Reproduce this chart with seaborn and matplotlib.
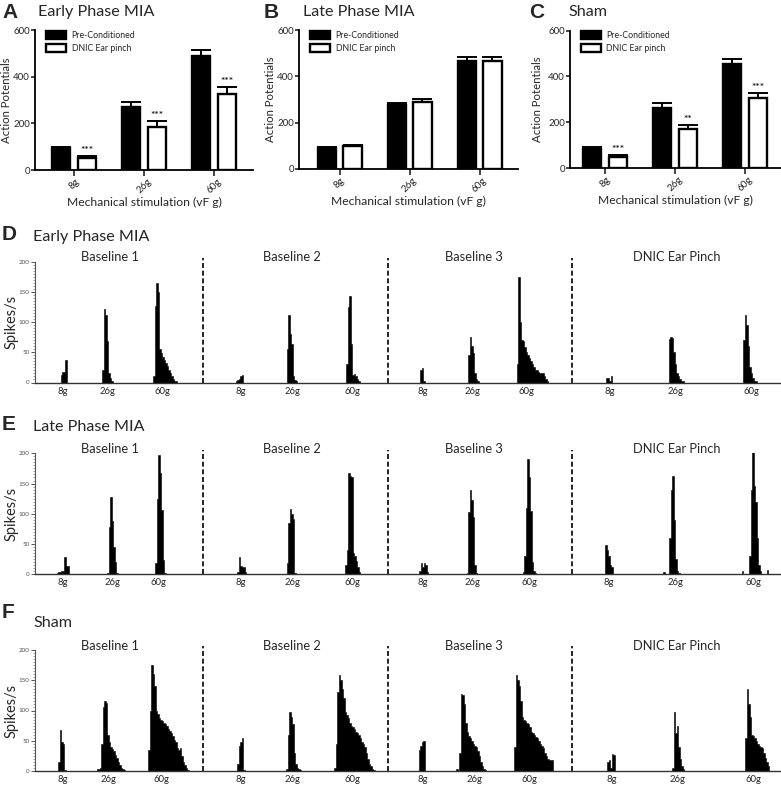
import numpy as np
import pandas as pd
import matplotlib
matplotlib.use("Agg")
import matplotlib.pyplot as plt
from matplotlib.ticker import MultipleLocator
import seaborn as sns

sns.set_theme(style="ticks")
plt.rcParams["font.family"] = ["Lato", "DejaVu Sans"]

# ---------------- bar chart data (A-C) ----------------
stimuli = ["8g", "26g", "60g"]
conditions = ["Pre-Conditioned", "DNIC Ear pinch"]

A_pre = [94, 270, 490]
A_pre_err = [6, 23, 26]
A_dnic = [53, 185, 326]
A_dnic_err = [5, 23, 28]
A_sig = ["***", "***", "***"]

B_pre = [92, 276, 465]
B_pre_err = [4, 9, 17]
B_dnic = [100, 291, 465]
B_dnic_err = [5, 10, 20]
B_sig = ["", "", ""]

C_pre = [84, 264, 452]
C_pre_err = [6, 18, 22]
C_dnic = [49, 171, 305]
C_dnic_err = [6, 15, 22]
C_sig = ["***", "**", "***"]

# ---------------- rate histogram data (D-F) ----------------
BIN_W = 1.5  # seconds per bin
stim_labels = ["8g", "26g", "60g"] * 4
segment_labels = ["Baseline 1", "Baseline 2", "Baseline 3", "DNIC Ear Pinch"]
segment_centres = [75, 257, 439, 642]
segment_bounds = [168, 353, 537]

D_stim_times = [28, 72, 127, 206, 257, 317, 388, 437, 491, 575, 640, 716]
D_onsets = [25.5, 67, 118.3, 200.5, 251.7, 311, 385, 433.3, 481.7, 571, 633.7, 708.3]
D_heights = [
    [12, 17, 17, 37],
    [20, 122, 112, 68, 15, 7, 2],
    [10, 127, 165, 150, 55, 48, 42, 38, 33, 27, 20, 15, 10, 5, 3, 2],
    [2, 4, 6, 10, 12],
    [55, 112, 80, 63, 10, 4, 2],
    [30, 125, 143, 63, 12, 14, 10, 5, 2],
    [20, 24, 3],
    [45, 75, 60, 48, 15, 5, 2],
    [30, 175, 100, 70, 68, 58, 50, 45, 40, 35, 30, 25, 20, 20, 18, 15, 15, 15, 10, 5, 2],
    [8, 8, 3, 10],
    [72, 75, 74, 50, 30, 15, 10, 6, 3, 2],
    [70, 111, 95, 60, 25, 15, 8, 3, 2],
]

E_stim_times = [28, 77, 123, 206, 257, 317, 388, 437, 494, 574, 640, 718]
E_onsets = [20, 72.3, 120, 202.3, 251.7, 310, 384.3, 431.7, 487.7, 570.3, 628.3, 634.3,
            706.7, 714.3, 731.7]
E_heights = [
    [1, 2, 3, 4, 5, 6, 28, 14, 13],
    [2, 78, 128, 88, 45, 20, 2],
    [18, 125, 197, 168, 107, 23, 2],
    [3, 28, 13, 12, 12, 3],
    [18, 85, 108, 100, 92, 2],
    [15, 40, 168, 163, 160, 35, 30, 22, 12, 3],
    [5, 18, 12, 18, 16, 3],
    [2, 103, 140, 122, 94, 15, 2],
    [3, 30, 110, 190, 160, 105, 20, 5, 2],
    [48, 40, 30, 15, 12],
    [3],
    [60, 140, 163, 90, 25, 5, 2],
    [6],
    [30, 140, 215, 146, 120, 60, 15, 5],
    [7],
]

F_stim_times = [28, 73, 126, 206, 257, 317, 388, 439, 494, 577, 642, 718]
F_onsets = [23.3, 61.7, 113.3, 202.3, 251, 299.3, 383.7, 421, 424.3, 479, 572.3, 637, 710.3]
F_heights = [
    [15, 67, 48, 44, 2],
    [3, 3, 5, 45, 105, 115, 112, 60, 48, 40, 37, 33, 27, 22, 15, 10, 5, 3, 2],
    [35, 100, 175, 160, 140, 100, 95, 88, 84, 82, 80, 77, 75, 70, 66, 62, 58, 52, 48, 38,
     35, 38, 25, 15, 10, 5, 2],
    [12, 42, 48, 55, 2],
    [3, 60, 97, 90, 78, 30, 12, 5, 3, 1],
    [5, 45, 130, 158, 150, 135, 120, 98, 93, 88, 80, 75, 73, 70, 65, 63, 60, 55, 48, 45,
     40, 30, 20, 12, 8, 4, 2],
    [35, 42, 48, 50],
    [3],
    [30, 128, 125, 110, 80, 65, 58, 55, 50, 45, 42, 40, 33, 25, 15, 8, 4, 2],
    [40, 159, 150, 140, 115, 90, 85, 82, 80, 78, 72, 65, 62, 60, 57, 55, 50, 45, 42, 38,
     30, 25, 20, 18, 18, 18],
    [15, 18, 5, 28, 26],
    [5, 98, 62, 75, 40, 20, 8, 3],
    [55, 135, 110, 90, 60, 58, 55, 50, 45, 42, 40, 38, 30, 22, 15, 8],
]

W, H = 781, 785
fig = plt.figure(figsize=(W / 100, H / 100), dpi=100)


def fx(px):
    return px / W


def fy(py):
    return 1 - py / H


LETTER_FONT = dict(family=["Liberation Sans", "DejaVu Sans"], fontweight="bold", fontsize=15)
TITLE_SIZE = 11.6


# ---------------- bar panels ----------------
def bar_panel(rect, xlim, pre, pre_err, dnic, dnic_err, sig, letter, title, letter_x, title_x,
              ylabel_px):
    ax = fig.add_axes(rect)
    df = pd.DataFrame({
        "stim": stimuli * 2,
        "cond": [conditions[0]] * 3 + [conditions[1]] * 3,
        "ap": pre + dnic,
    })
    sns.barplot(data=df, x="stim", y="ap", hue="cond", order=stimuli, hue_order=conditions,
                palette=["black", "white"], edgecolor="black", linewidth=1.7,
                width=0.74, gap=0.3, errorbar=None, ax=ax, zorder=2, saturation=1)
    bars = [p for p in ax.patches if p.get_height() > 0][:6]
    bars = sorted(bars, key=lambda p: p.get_x())
    vals = []
    for i in range(3):
        vals.append((pre[i], pre_err[i], ""))
        vals.append((dnic[i], dnic_err[i], sig[i]))
    for p, (v, e, s) in zip(bars, vals):
        xc = p.get_x() + p.get_width() / 2
        ax.errorbar([xc], [v], yerr=[[0], [e]], fmt="none", ecolor="black",
                    elinewidth=1.4, capsize=7, capthick=1.4, zorder=1)
        if s:
            ax.text(xc, v + e + 5, s, ha="center", va="bottom", fontsize=7.5,
                    fontweight="bold", color="#222222")
    ax.set_xlim(*xlim)
    ax.set_ylim(0, 600)
    ax.set_yticks([0, 200, 400, 600])
    ax.tick_params(axis="y", labelsize=7.0, length=2.6, width=1.2, pad=1)
    ax.tick_params(axis="x", labelsize=7.2, length=4, width=1.2, pad=1)
    for lab in ax.get_xticklabels():
        lab.set_rotation(45)
        lab.set_ha("center")
    sns.despine(ax=ax)
    for sp in ("left", "bottom"):
        ax.spines[sp].set_linewidth(1.3)
        ax.spines[sp].set_color("black")
    ax.set_xlabel("Mechanical stimulation (vF g)", fontsize=8.7, labelpad=1)
    ax.set_ylabel("Action Potentials", fontsize=8.2)
    ax.yaxis.set_label_coords((ylabel_px - rect[0] * W) / (rect[2] * W), 0.5)
    handles, labels = ax.get_legend_handles_labels()
    ax.legend(handles, labels, loc="upper left", bbox_to_anchor=(0.035, 1.02), frameon=False,
              fontsize=6.3, handlelength=2.3, handleheight=1.0, labelspacing=0.45,
              handletextpad=0.6, borderaxespad=0)
    fig.text(fx(letter_x), fy(12), letter, ha="left", va="center", **LETTER_FONT)
    fig.text(fx(title_x), fy(12), title, ha="left", va="center", fontsize=TITLE_SIZE)
    return ax


bar_panel([fx(35), fy(170), fx(218), 140 / H], (-0.557, 2.557), A_pre, A_pre_err, A_dnic,
          A_dnic_err, A_sig, "A", "Early Phase MIA", 2, 38, 12.5)
bar_panel([fx(299), fy(169), fx(219), 139 / H], (-0.58, 2.55), B_pre, B_pre_err, B_dnic,
          B_dnic_err, B_sig, "B", "Late Phase MIA", 264, 303, 275.5)
bar_panel([fx(570), fy(168), fx(211), 137.5 / H], (-0.5, 2.51), C_pre, C_pre_err, C_dnic,
          C_dnic_err, C_sig, "C", "Sham", 529, 568, 543)


# ---------------- histogram panels ----------------
def hist_panel(bottom_px, onsets, heights, stim_times, letter, title, letter_y, title_y):
    ax = fig.add_axes([fx(35), fy(bottom_px), fx(746), 121 / H])
    edges, centres, weights = [], [], []
    for t0, hs in zip(onsets, heights):
        e = t0 + BIN_W * np.arange(len(hs) + 1)
        edges.extend(np.round(e, 4).tolist())
        centres.extend((t0 + BIN_W * (np.arange(len(hs)) + 0.5)).tolist())
        weights.extend(hs)
    edges = sorted(set(edges + [0.0, 746.0]))
    df = pd.DataFrame({"t": centres, "rate": weights})
    sns.histplot(data=df, x="t", weights="rate", bins=list(edges), element="step", fill=True,
                 color="black", alpha=1, linewidth=0.4, ax=ax)
    ax.set_xlim(0, 746)
    ax.set_ylim(0, 200)
    ax.set_yticks([0, 50, 100, 150, 200])
    ax.yaxis.set_minor_locator(MultipleLocator(5))
    ax.tick_params(axis="y", which="major", labelsize=4.5, length=3, width=0.7, pad=1,
                   labelcolor="#555555", color="#555555")
    ax.tick_params(axis="y", which="minor", length=1.3, width=0.5, color="#777777")
    ax.set_xticks(stim_times)
    ax.set_xticklabels(stim_labels)
    ax.tick_params(axis="x", labelsize=6.8, length=0, pad=3)
    sns.despine(ax=ax)
    ax.spines["left"].set_linewidth(0.8)
    ax.spines["left"].set_color("#555555")
    ax.spines["bottom"].set_linewidth(1.0)
    ax.spines["bottom"].set_color("#333333")
    ax.set_xlabel("")
    ax.set_ylabel("Spikes/s", fontsize=10.5)
    ax.yaxis.set_label_coords((19 - 35) / 746, 0.5)
    ax.vlines(segment_bounds, 0, 206, colors="black", linestyles=(0, (3, 1.6)),
              linewidth=1.2, clip_on=False)
    for xc, lab in zip(segment_centres, segment_labels):
        ax.text(xc, 207, lab, ha="center", va="center", fontsize=9.3, clip_on=False)
    fig.text(fx(2), fy(letter_y), letter, ha="left", va="center", **LETTER_FONT)
    fig.text(fx(33), fy(title_y), title, ha="left", va="center", fontsize=TITLE_SIZE)
    return ax


hist_panel(382.5, D_onsets, D_heights, D_stim_times, "D", "Early Phase MIA", 235, 237)
hist_panel(574.3, E_onsets, E_heights, E_stim_times, "E", "Late Phase MIA", 425, 427)
hist_panel(771, F_onsets, F_heights, F_stim_times, "F", "Sham", 613, 623)

fig.savefig("out.png", dpi=100)
